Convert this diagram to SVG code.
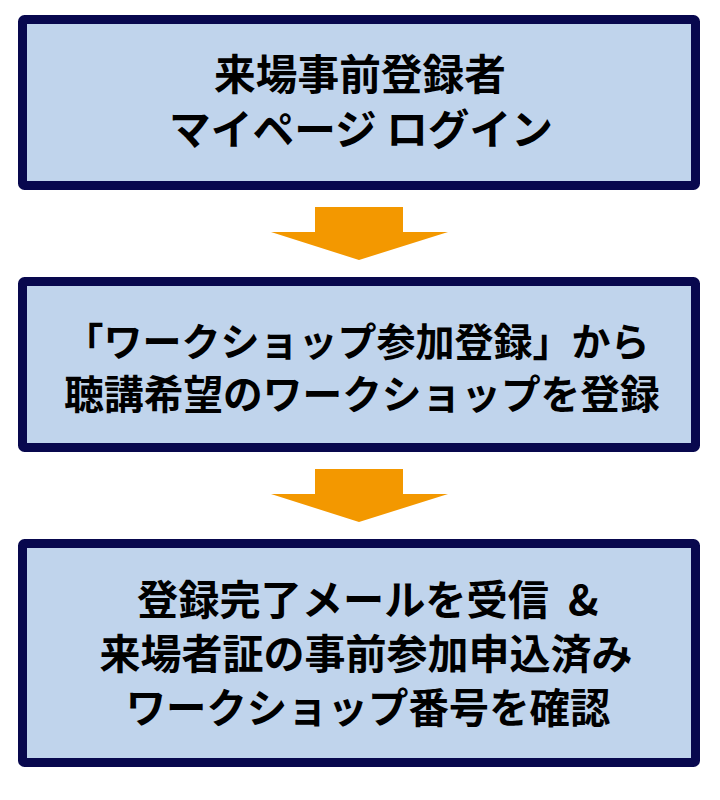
<svg xmlns="http://www.w3.org/2000/svg" width="720" height="800" viewBox="0 0 720 800">
<style>
.box{fill:#c0d4ec;stroke:#08084e;stroke-width:9}
.t{font-family:"Noto Sans CJK JP","Noto Sans",sans-serif;font-weight:bold;font-size:40px;fill:#000;text-anchor:middle}
.arr{fill:#f39800}
</style>
<rect width="720" height="800" fill="#fff"/>
<g id="connectors">
<polygon class="arr" points="315,207 403,207 403,232 448,232 359,260 271,232 315,232"/>
<polygon class="arr" points="315,469 403,469 403,494 448,494 359,522 271,494 315,494"/>
</g>
<g id="node1">
<rect class="box" x="22.5" y="19.5" width="673" height="166" rx="2"/>
<text class="t" x="360" y="90" style="font-size:41.7px">来場事前登録者</text>
<text class="t" x="361" y="145" style="font-size:41.7px">マイページ ログイン</text>
</g>
<g id="node2">
<rect class="box" x="22.5" y="281.5" width="673" height="166" rx="2"/>
<text class="t" x="357" y="356" style="font-size:39px">「ワークショップ参加登録」から</text>
<text class="t" x="362" y="409" style="font-size:39.7px">聴講希望のワークショップを登録</text>
</g>
<g id="node3">
<rect class="box" x="22.5" y="543.5" width="673" height="219" rx="2"/>
<text class="t" x="137" y="614.5" style="font-size:41.2px;text-anchor:start">登録完了メールを受信</text>
<text class="t" x="568" y="614.5" style="font-size:41.2px;text-anchor:start">&amp;</text>
<text class="t" x="366" y="669" style="font-size:41px">来場者証の事前参加申込済み</text>
<text class="t" x="368" y="723" style="font-size:40.4px">ワークショップ番号を確認</text>
</g>
</svg>
